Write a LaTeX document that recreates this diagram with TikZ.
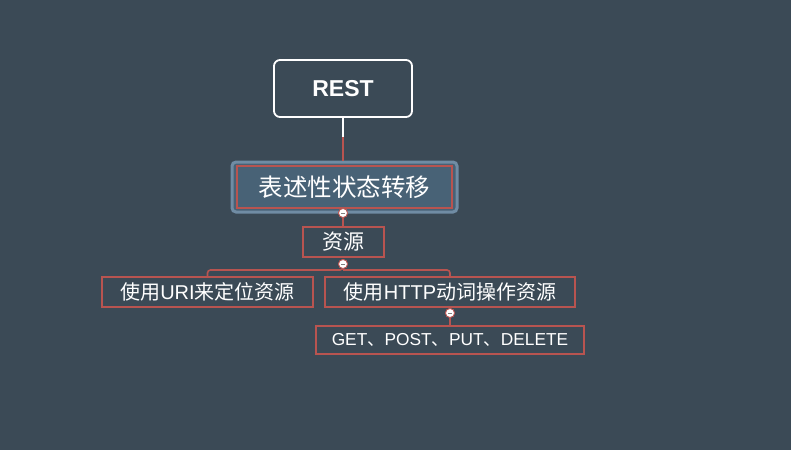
\documentclass[tikz,border=0pt]{standalone}
\usepackage{fontspec}
\setmainfont{Noto Sans CJK SC}
\newfontfamily\latin{Liberation Sans}
\newcommand{\lat}[1]{{\latin #1}}
\definecolor{slate}{RGB}{59,74,86}
\definecolor{brick}{RGB}{184,84,80}
\definecolor{glow}{RGB}{112,140,164}
\definecolor{glowfill}{RGB}{72,98,118}
\begin{document}
\begin{tikzpicture}[x=1pt,y=-1pt,
  box/.style={draw=brick,line width=1.8pt,text=white,inner sep=0pt,font=\fontsize{20}{22}\selectfont},
  link/.style={draw=brick,line width=1.6pt},
  knob/.style={circle,draw=brick,fill=white,line width=0.8pt,minimum size=9pt,inner sep=0pt,
    path picture={\draw[gray,line width=0.8pt] ([xshift=-2pt]path picture bounding box.center)--([xshift=2pt]path picture bounding box.center);}},
]
\fill[slate] (0,0) rectangle (791,450);
\useasboundingbox (0,0) rectangle (791,450);
% top node
\node[draw=white,line width=1.8pt,rounded corners=6pt,minimum width=138pt,minimum height=57pt,
  text=white,font=\fontsize{23}{25}\selectfont\latin\bfseries] (rest) at (343,88.5) {REST};
\node[draw=glow,fill=glowfill,line width=3pt,rounded corners=4pt,minimum width=225pt,minimum height=50pt] (mainglow) at (344.5,187) {};
\node[box,minimum width=215pt,minimum height=42pt,font=\fontsize{24.5}{26}\selectfont] (main) at (344.5,187) {表述性状态转移};
\coordinate (mid) at (343,137);
\draw[white,line width=1.6pt] (rest.south) -- (mid);
\draw[link] (mid) -- (mid |- mainglow.north);
% second level
\node[box,minimum width=81pt,minimum height=30pt,font=\fontsize{21}{23}\selectfont] (res) at (343.5,242) {资源};
\node[knob] (c1) at (343,213) {};
\draw[link] (c1) -- (c1 |- res.north);
\node[box,minimum width=211pt,minimum height=30pt] (uri) at (207.5,292) {使用\lat{URI}来定位资源};
\node[box,minimum width=250pt,minimum height=30pt] (http) at (450,292) {使用\lat{HTTP}动词操作资源};
\node[knob] (c2) at (343,264) {};
\coordinate (fork) at (343,270);
\draw[link,rounded corners=3pt] (c2) -- (fork) -| (uri.north);
\draw[link,rounded corners=3pt] (fork) -| (http.north);
% verbs
\node[box,minimum width=268pt,minimum height=28pt,font=\fontsize{17.3}{19}\selectfont] (verbs) at (450,340) {\lat{GET}、\lat{POST}、\lat{PUT}、\lat{DELETE}};
\node[knob] (c3) at (450,313) {};
\draw[link] (c3) -- (verbs.north);
\node[knob] at (343,213) {};
\node[knob] at (343,264) {};
\node[knob] at (450,313) {};
\end{tikzpicture}
\end{document}
